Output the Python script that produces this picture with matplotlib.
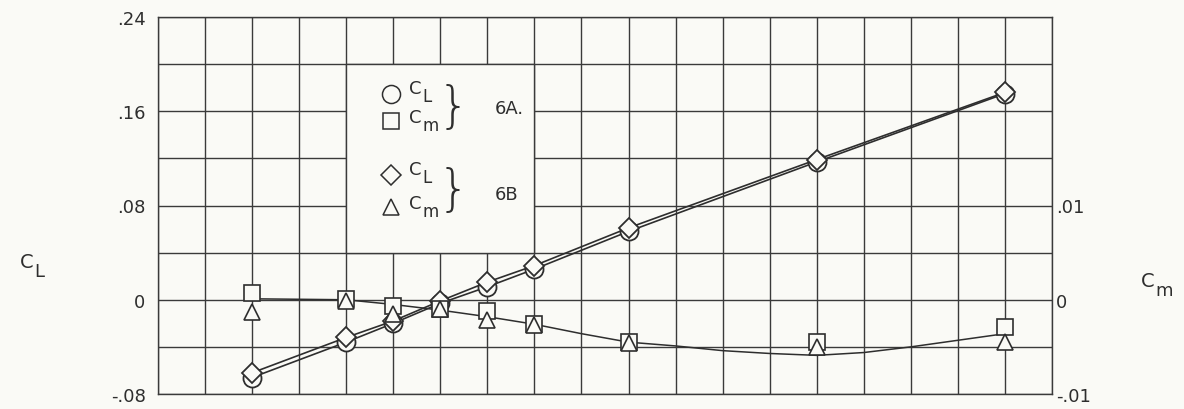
import matplotlib
matplotlib.use("Agg")
import matplotlib.pyplot as plt
from matplotlib.patches import Rectangle

# angle of attack (deg); the x axis carries no labels on the original
alpha = [-4, -2, -1, 0, 1, 2, 4, 8, 12]

cl_6a = [-0.066, -0.036, -0.020, -0.003, 0.011, 0.026, 0.058, 0.117, 0.175]
cl_6b = [-0.062, -0.032, -0.018, -0.001, 0.015, 0.029, 0.061, 0.119, 0.176]
cm_6a = [0.0007, 0.0001, -0.0007, -0.0010, -0.0012, -0.0026, -0.0045, -0.0045, -0.0029]
cm_6b = [-0.0013, -0.0001, -0.0015, -0.0010, -0.0022, -0.0027, -0.0046, -0.0050, -0.0045]

# faired Cm curve
fair_alpha = [-4, -2, -1, 0, 1, 2, 3, 4, 5, 6, 7, 8, 9, 10, 11, 12]
fair_cm = [0.0001, 0.0, -0.0005, -0.0011, -0.0018, -0.0026, -0.0036, -0.0045,
           -0.0049, -0.0054, -0.0057, -0.0059, -0.0056, -0.0050, -0.0043, -0.0036]

# grid rows every .04, labels every .08
cl_grid = [-0.08, -0.04, 0, 0.04, 0.08, 0.12, 0.16, 0.20, 0.24]
cl_labels = ["-.08", "", "0", "", ".08", "", ".16", "", ".24"]
cm_ticks = [-0.01, 0, 0.01]
cm_labels = ["-.01", "0", ".01"]

bg = "#fafaf6"
ink = "#2e2e2e"
plt.rcParams["font.family"] = ["DejaVu Sans"]

fig = plt.figure(figsize=(11.84, 4.10), dpi=100, facecolor=bg)
ax = fig.add_axes([158 / 1184, 1 - 395 / 410, (1052 - 158) / 1184, (395 - 18) / 410])
ax.set_facecolor(bg)
ax.set_xlim(-6, 13)
ax.set_ylim(-0.08, 0.24)

ax.set_xticks(range(-6, 14))
ax.set_xticklabels([])
ax.set_yticks(cl_grid)
ax.set_yticklabels(cl_labels)
ax.grid(True, color="#3a3a3a", lw=1.0)
ax.set_axisbelow(True)
ax.tick_params(length=0)
ax.tick_params(axis="y", pad=9, labelsize=13, labelcolor=ink)
for s in ax.spines.values():
    s.set_color("#3a3a3a")
    s.set_linewidth(1.0)

# blank panel for the key
ax.add_patch(Rectangle((-2, 0.04), 4, 0.16, facecolor=bg, edgecolor="#3a3a3a",
                       lw=1.0, zorder=1))

ax.plot(alpha, cl_6a, color=ink, lw=1.2, marker="o", ms=13, mfc=bg, mec=ink,
        mew=1.3, zorder=3)
ax.plot(alpha, cl_6b, color=ink, lw=1.2, marker="D", ms=10.5, mfc=bg, mec=ink,
        mew=1.3, zorder=4)

ax2 = ax.twinx()
ax2.set_ylim(-0.01, 0.03)
ax2.set_yticks(cm_ticks)
ax2.set_yticklabels(cm_labels)
ax2.tick_params(length=0, pad=3, labelsize=13, labelcolor=ink)
for s in ax2.spines.values():
    s.set_visible(False)
ax2.plot(fair_alpha, fair_cm, color=ink, lw=1.1, zorder=2)
ax2.plot(alpha, cm_6a, ls="none", marker="s", ms=11.5, mfc=bg, mec=ink, mew=1.2, zorder=3)
ax2.plot(alpha, cm_6b, ls="none", marker="^", ms=12, mfc=bg, mec=ink, mew=1.2, zorder=4)


def coef(x, y, sub, size, transform):
    # "C" with a large, dropped subscript, as lettered on the original
    t = ax.text(x, y, "C", fontsize=size, color=ink, va="center", ha="left",
                zorder=5, transform=transform, clip_on=False)
    ax.annotate(sub, xy=(1, 0), xycoords=t, xytext=(0.3, 0.5), textcoords="offset points",
                fontsize=size - 1, color=ink, va="center", ha="left", zorder=5,
                annotation_clip=False)


# key
kx = -1.05
for y, m, ms in [(0.1745, "o", 13), (0.152, "s", 11.5), (0.1055, "D", 10.5), (0.079, "^", 12)]:
    ax.plot([kx], [y], ls="none", marker=m, ms=ms, mfc=bg, mec=ink, mew=1.1, zorder=5)
for y, sub in [(0.180, "L"), (0.155, "m"), (0.111, "L"), (0.082, "m")]:
    coef(-0.66, y, sub, 13, ax.transData)
for y in [0.1635, 0.093]:
    ax.text(-0.05, y, "}", fontsize=36, color=ink, va="center", ha="left",
            fontweight="light", zorder=5)
ax.text(1.15, 0.1626, "6A.", fontsize=13, color=ink, va="center", ha="left", zorder=5)
ax.text(1.15, 0.090, "6B", fontsize=13, color=ink, va="center", ha="left", zorder=5)

coef(20 / 1184, 1 - 263 / 410, "L", 14, fig.transFigure)
coef(1141 / 1184, 1 - 282 / 410, "m", 14, fig.transFigure)

fig.savefig("out.png", dpi=100, facecolor=bg)
